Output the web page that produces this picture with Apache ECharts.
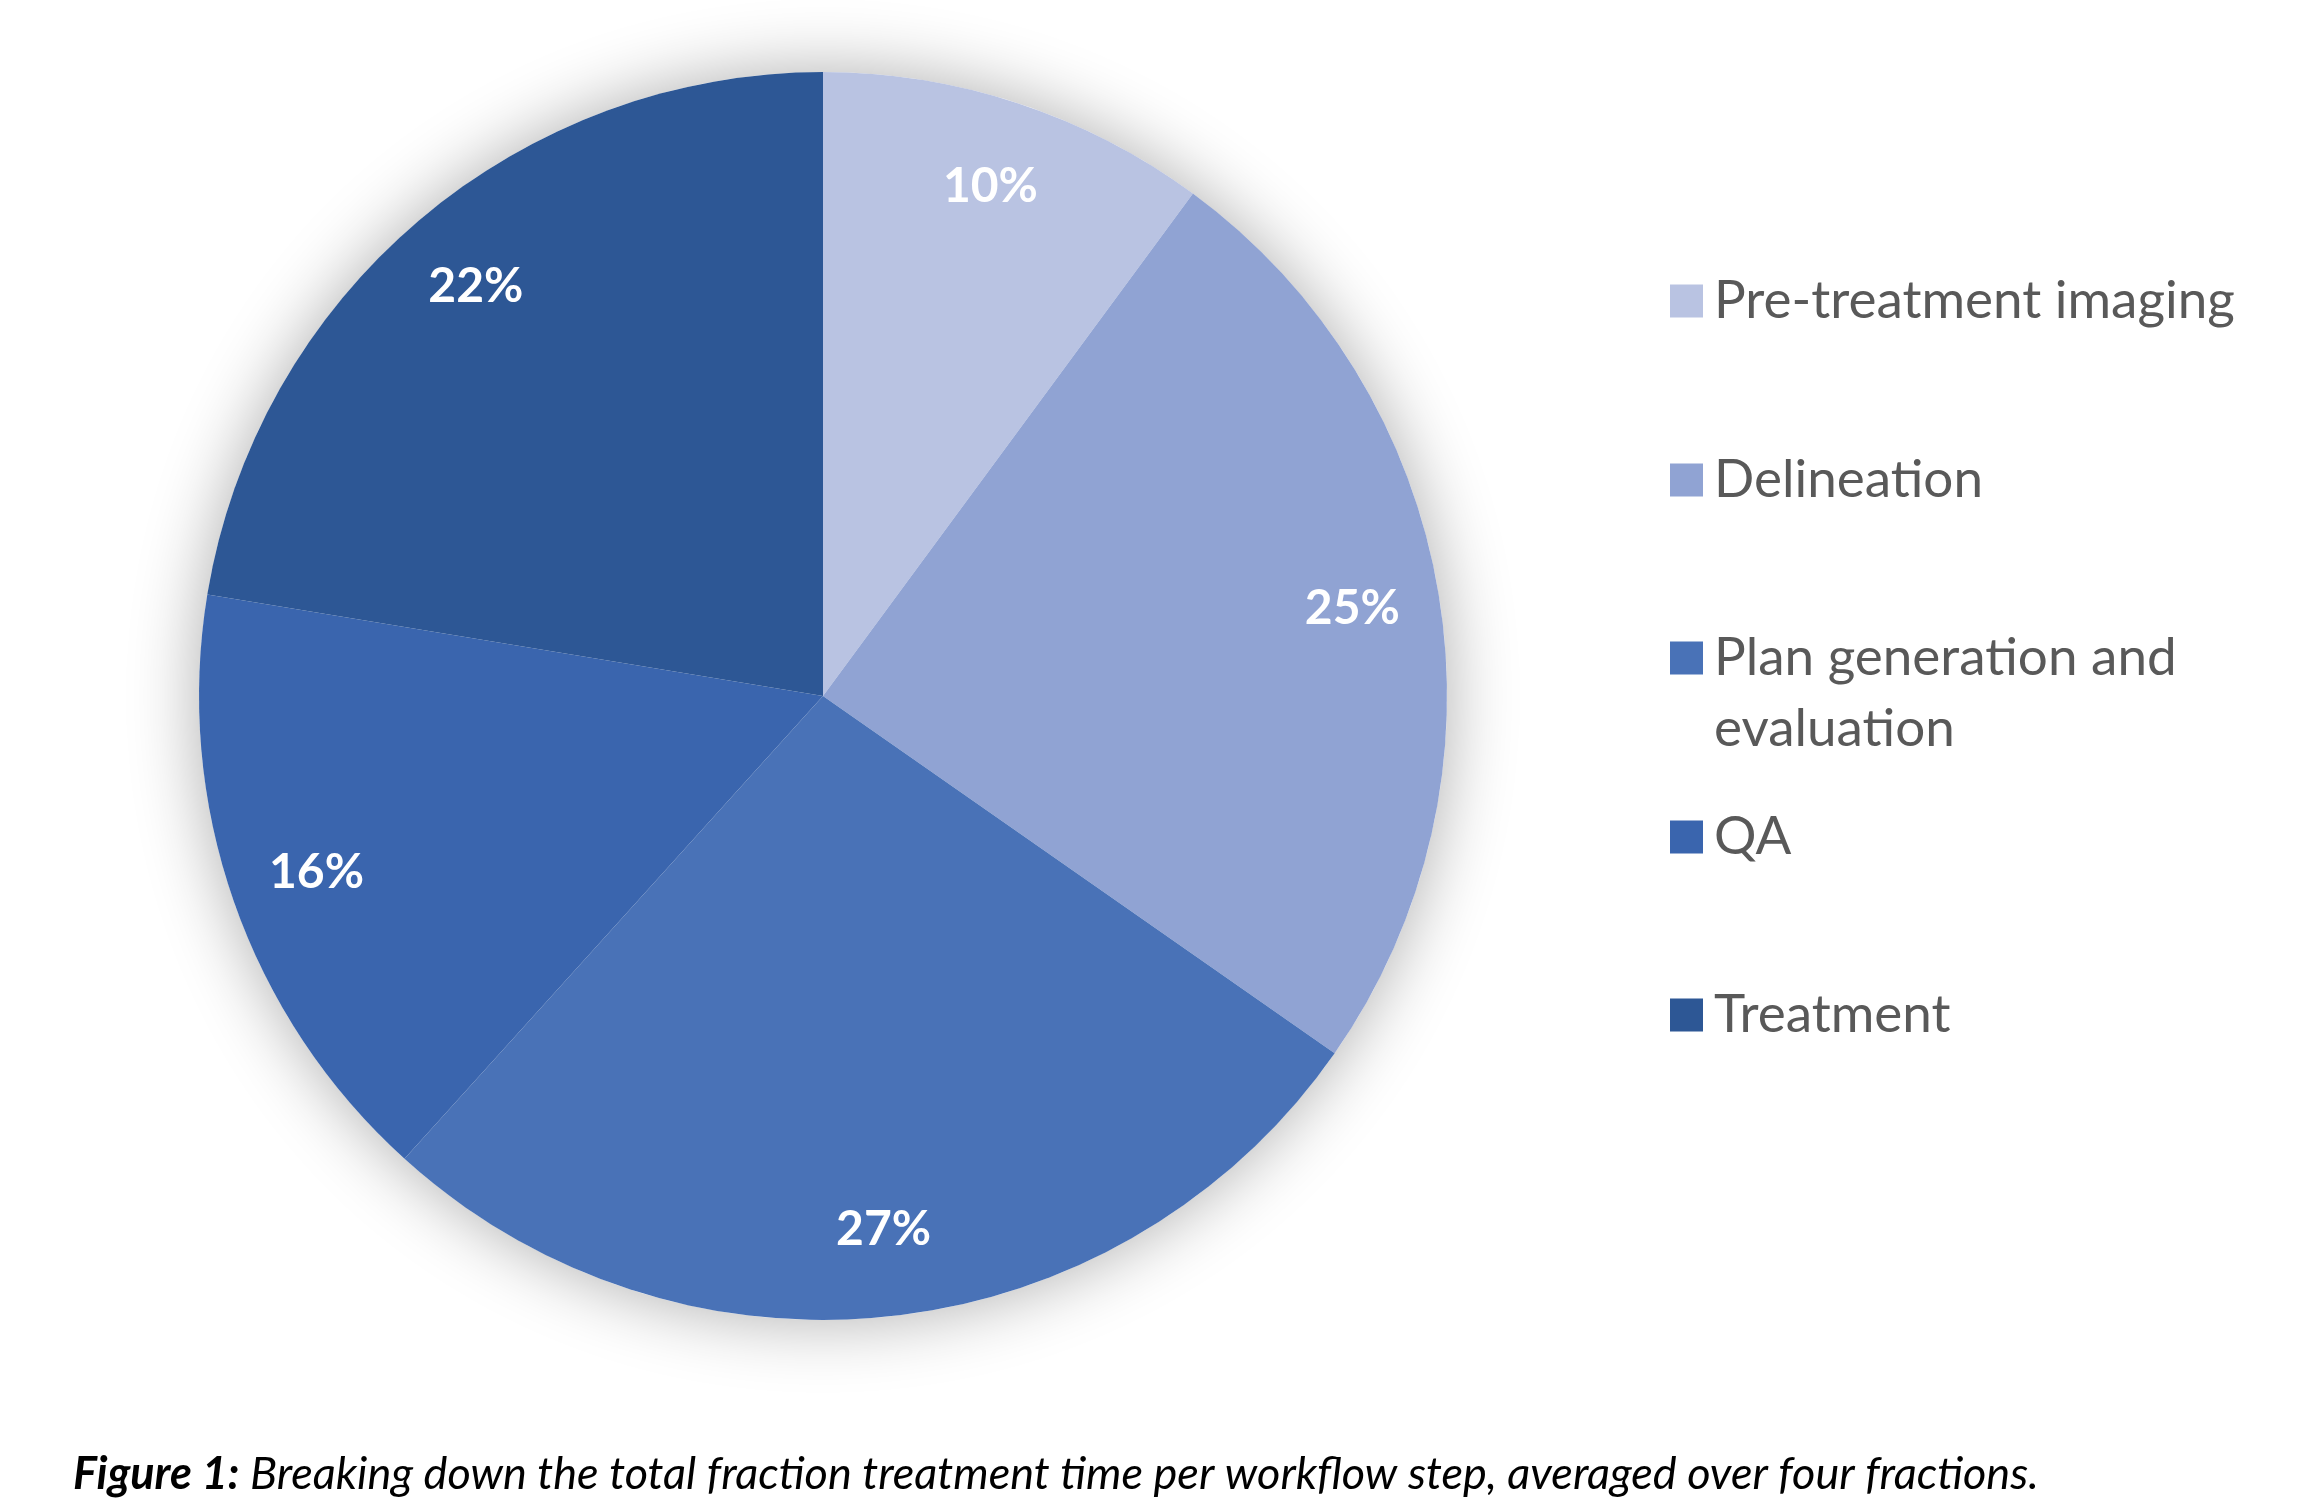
<!DOCTYPE html>
<html>
<head>
<meta charset="utf-8">
<script src="https://cdn.jsdelivr.net/npm/echarts@6/dist/echarts.min.js"></script>
<style>
  html, body { margin: 0; padding: 0; background: #fff; }
  #chart { width: 2317px; height: 1502px; }
</style>
</head>
<body>
<div id="chart"></div>
<script>
// 数据
var steps = ['Pre-treatment imaging', 'Delineation', 'Plan generation and evaluation', 'QA', 'Treatment'];
var shares = [10.1, 24.6, 27.0, 15.9, 22.4];
var colors = ['#B9C3E2', '#90A3D3', '#4972B7', '#3A65AE', '#2D5795'];
var caption = 'Breaking down the total fraction treatment time per workflow step, averaged over four fractions.';

var center = [823, 696];
var radius = 624;
var legendTops = [301, 480, 658, 837, 1015];

function buildData() {
    return steps.map(function (name, i) {
        return { name: name, value: shares[i], itemStyle: { color: colors[i] } };
    });
}

// 每个图例单独放置，间距和原图一致
function buildLegends() {
    return steps.map(function (name, i) {
        var isPlan = name === 'Plan generation and evaluation';
        return {
            orient: 'vertical',
            left: 1670,
            top: legendTops[i] - 35.5,
            padding: 0,
            itemWidth: 33,
            itemHeight: isPlan ? 104 : 33,
            itemGap: 0,
            selectedMode: false,
            data: [{
                name: name,
                icon: isPlan ? 'path://M0,0H33V33H0Z M0,103.9H0.1V104H0Z' : 'path://M0,0H33V33H0Z'
            }],
            formatter: function (n) {
                return n === 'Plan generation and evaluation' ? 'Plan generation and\nevaluation' : n;
            },
            textStyle: {
                color: '#595959',
                fontFamily: 'Lato',
                fontSize: 53,
                lineHeight: 71,
                padding: [0, 0, 0, 6]
            }
        };
    });
}

function generateChart() {
    var myChart = echarts.init(document.getElementById('chart'));
    var option = {
        backgroundColor: '#fff',
        animation: false,
        title: {
            left: 68,
            top: 1447,
            text: '{b|Figure 1:}{i| ' + caption + '}',
            textStyle: {
                fontWeight: 'normal',
                rich: {
                    b: { fontFamily: 'Lato', fontStyle: 'italic', fontWeight: 'bold', fontSize: 45, color: '#000' },
                    i: { fontFamily: 'Lato', fontStyle: 'italic', fontWeight: 'normal', fontSize: 45, color: '#000' }
                }
            }
        },
        legend: buildLegends(),
        series: [
            {
                // 阴影底盘
                type: 'pie',
                silent: true,
                center: center,
                radius: radius,
                label: { show: false },
                itemStyle: {
                    color: '#fff',
                    shadowBlur: 70,
                    shadowColor: 'rgba(0,0,0,0.32)'
                },
                data: [{ name: '', value: 1 }]
            },
            {
                type: 'pie',
                center: center,
                radius: radius,
                startAngle: 90,
                clockwise: true,
                label: { show: false },
                itemStyle: { borderWidth: 0 },
                emphasis: { disabled: true },
                data: buildData()
            },
            {
                // 透明圆环，只用来放标签
                type: 'pie',
                silent: true,
                center: center,
                radius: [radius * 0.71, radius],
                startAngle: 90,
                clockwise: true,
                itemStyle: { color: 'rgba(0,0,0,0)' },
                label: {
                    show: true,
                    position: 'inside',
                    formatter: function (p) { return Math.round(p.value) + '%'; },
                    color: '#fff',
                    fontFamily: 'Lato',
                    fontWeight: 'bold',
                    fontSize: 48
                },
                labelLine: { show: false },
                data: buildData().map(function (d) { return { name: d.name, value: d.value }; })
            }
        ]
    };
    myChart.setOption(option);
}

generateChart();
</script>
</body>
</html>
